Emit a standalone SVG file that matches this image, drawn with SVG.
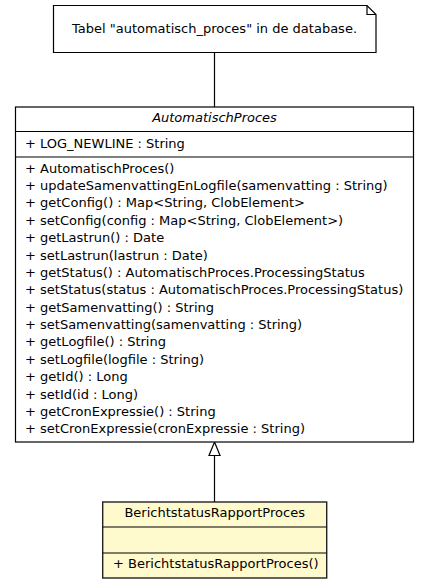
<svg xmlns="http://www.w3.org/2000/svg" width="429" height="588" viewBox="0 0 429 588">
<defs>
<style>
text{font-family:"DejaVu Sans","Liberation Sans",sans-serif;font-size:13px;fill:#000}
.c{text-anchor:middle}
.i{font-style:italic}
.box{fill:#fff;stroke:#000;stroke-width:1.2}
.ybox{fill:#fffacd;stroke:#222;stroke-width:1.4}
.ln{stroke:#000;stroke-width:1.2;fill:none}
</style>
</defs>
<rect width="429" height="588" fill="#fff"/>
<g id="connectors">
<line class="ln" x1="214.5" y1="53" x2="214.5" y2="107"/>
<line class="ln" x1="214.5" y1="455" x2="214.5" y2="502"/>
<path d="M214.5,442 L220,455.5 L209,455.5 Z" fill="#fff" stroke="#000" stroke-width="1.2"/>
</g>
<g id="note">
<path class="box" d="M53.5,5.5 H367 L376,14.5 V52.5 H53.5 Z"/>
<path class="ln" d="M367,5.5 V14.5 H376"/>
<text class="c" x="214.5" y="33">Tabel "automatisch_proces" in de database.</text>
</g>
<g id="AutomatischProces">
<rect class="box" x="15.5" y="107" width="398" height="335"/>
<line class="ln" x1="15.5" y1="131.5" x2="413.5" y2="131.5"/>
<line class="ln" x1="15.5" y1="157" x2="413.5" y2="157"/>
<text class="c i" x="214.5" y="122">AutomatischProces</text>
<text x="25" y="147.7">+ LOG_NEWLINE : String</text>
<text x="25" y="172.7">+ AutomatischProces()</text>
<text x="25" y="190.1">+ updateSamenvattingEnLogfile(samenvatting : String)</text>
<text x="25" y="207.4">+ getConfig() : Map&lt;String, ClobElement&gt;</text>
<text x="25" y="224.8">+ setConfig(config : Map&lt;String, ClobElement&gt;)</text>
<text x="25" y="242.2">+ getLastrun() : Date</text>
<text x="25" y="259.5">+ setLastrun(lastrun : Date)</text>
<text x="25" y="276.9">+ getStatus() : AutomatischProces.ProcessingStatus</text>
<text x="25" y="294.3">+ setStatus(status : AutomatischProces.ProcessingStatus)</text>
<text x="25" y="311.6">+ getSamenvatting() : String</text>
<text x="25" y="329">+ setSamenvatting(samenvatting : String)</text>
<text x="25" y="346.4">+ getLogfile() : String</text>
<text x="25" y="363.7">+ setLogfile(logfile : String)</text>
<text x="25" y="381.1">+ getId() : Long</text>
<text x="25" y="398.5">+ setId(id : Long)</text>
<text x="25" y="415.8">+ getCronExpressie() : String</text>
<text x="25" y="433.2">+ setCronExpressie(cronExpressie : String)</text>
</g>
<g id="BerichtstatusRapportProces">
<rect class="ybox" x="102.7" y="502" width="224" height="76"/>
<line class="ln" x1="102.7" y1="527" x2="326.7" y2="527"/>
<line class="ln" x1="102.7" y1="553" x2="326.7" y2="553"/>
<text class="c" x="214.7" y="517.3">BerichtstatusRapportProces</text>
<text x="113" y="568.3">+ BerichtstatusRapportProces()</text>
</g>
</svg>
